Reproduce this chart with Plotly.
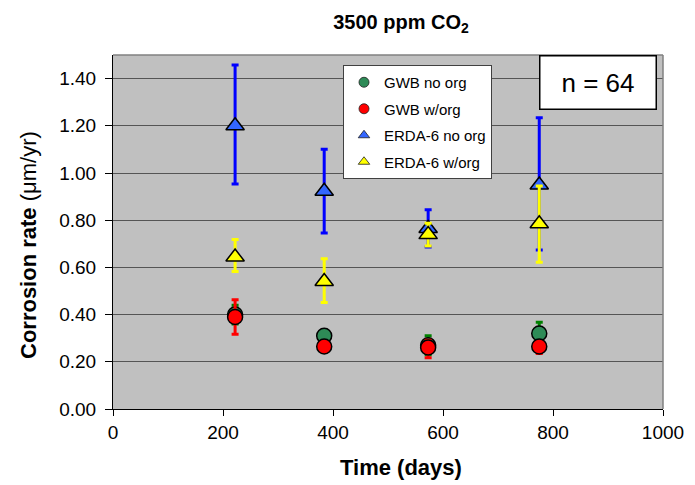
import plotly.graph_objects as go

days = [222, 384, 573, 775]

gwb_no = [0.40, 0.31, 0.27, 0.32]
gwb_no_up = [0.04, 0.0, 0.04, 0.048]
gwb_no_dn = [0.04, 0.0, 0.04, 0.04]

gwb_w = [0.39, 0.265, 0.261, 0.265]
gwb_w_up = [0.073, 0.0, 0.03, 0.0]
gwb_w_dn = [0.073, 0.0, 0.044, 0.03]

erda_no = [1.20, 0.923, 0.765, 0.949]
erda_no_up = [0.258, 0.178, 0.079, 0.285]
erda_no_dn = [0.247, 0.177, 0.079, 0.275]

erda_w = [0.644, 0.540, 0.739, 0.785]
erda_w_up = [0.074, 0.097, 0.048, 0.16]
erda_w_dn = [0.061, 0.089, 0.048, 0.163]

yticks = [0.0, 0.2, 0.4, 0.6, 0.8, 1.0, 1.2, 1.4]
xticks = [0, 200, 400, 600, 800, 1000]

series = [
    ("GWB no org", gwb_no, gwb_no_up, gwb_no_dn, "circle", "#2E8B57", "#008000", 15),
    ("GWB w/org", gwb_w, gwb_w_up, gwb_w_dn, "circle", "#FF0000", "#FF0000", 15),
    ("ERDA-6 no org", erda_no, erda_no_up, erda_no_dn, "triangle-up", "#3366FF", "#0000FF", 16),
    ("ERDA-6 w/org", erda_w, erda_w_up, erda_w_dn, "triangle-up", "#FFFF00", "#FFFF00", 16),
]

fig = go.Figure()
for i, (name, y, up, dn, sym, fill, ecol, size) in enumerate(series):
    fig.add_trace(go.Scatter(
        x=days, y=y, mode="markers", name=name, legendgroup=f"g{i}", showlegend=False,
        marker=dict(symbol=sym, size=size, color=fill, line=dict(color="black", width=1.5)),
        error_y=dict(type="data", symmetric=False, array=up, arrayminus=dn,
                     color=ecol, thickness=3, width=3.5),
    ))
# legend entries with small symbols, as in the reference legend
for i, (name, y, up, dn, sym, fill, ecol, size) in enumerate(series):
    fig.add_trace(go.Scatter(
        x=[None], y=[None], mode="markers", name=name, legendgroup=f"g{i}",
        marker=dict(symbol=sym, size=10, color=fill, line=dict(color="#202020", width=0.8)),
    ))

fig.update_layout(
    width=687, height=477,
    margin=dict(l=105, r=32, t=47, b=76),
    paper_bgcolor="white", plot_bgcolor="#C0C0C0",
    font=dict(family="Arial, Liberation Sans, sans-serif", color="black"),
    title=dict(text="<b>3500 ppm CO<sub>2</sub></b>", x=393 / 687, xanchor="center",
               y=1 - 14 / 477, yanchor="middle", font=dict(size=20)),
    showlegend=True,
    legend=dict(x=(343 - 113) / 550, xanchor="left", y=(409 - 65) / 354, yanchor="top",
                bgcolor="white", bordercolor="#404040", borderwidth=1,
                font=dict(size=15), tracegroupgap=4, itemsizing="trace"),
    xaxis=dict(range=[0, 1000], tickvals=xticks, showgrid=False, zeroline=False,
               showline=True, linecolor="black", linewidth=1,
               ticks="outside", ticklen=6, tickcolor="black",
               tickfont=dict(size=19)),
    yaxis=dict(range=[0, 1.5], tickvals=yticks, tickformat=".2f", showgrid=True,
               gridcolor="#555555", gridwidth=1, zeroline=False,
               showline=True, linecolor="black", linewidth=1,
               ticks="outside", ticklen=7, tickcolor="black",
               ticklabelstandoff=5,
               tickfont=dict(size=19)),
    shapes=[
        dict(type="line", xref="paper", yref="paper", x0=0, x1=1, y0=1, y1=1,
             line=dict(color="#808080", width=1.5)),
        dict(type="line", xref="paper", yref="paper", x0=1, x1=1, y0=0, y1=1,
             line=dict(color="#808080", width=1.5)),
    ],
    annotations=[
        dict(text="n = 64", xref="paper", yref="paper",
             x=(539 - 113) / 550, y=1, xanchor="left", yanchor="top",
             showarrow=False, width=113, height=50, bgcolor="white",
             bordercolor="black", borderwidth=1.5,
             font=dict(size=26, family="Liberation Sans Narrow, Arial Narrow, Arial")),
        dict(text="<b>Corrosion rate </b>(μm/yr)", xref="paper", yref="paper",
             x=(28 - 113) / 550, y=(409 - 245) / 354, xanchor="center", yanchor="middle",
             textangle=-90, showarrow=False, font=dict(size=22)),
        dict(text="<b>Time (days)</b>", xref="paper", yref="paper",
             x=(401 - 113) / 550, y=(409 - 467) / 354, xanchor="center", yanchor="middle",
             showarrow=False, font=dict(size=22)),
    ],
)

fig.write_html("out.html")
